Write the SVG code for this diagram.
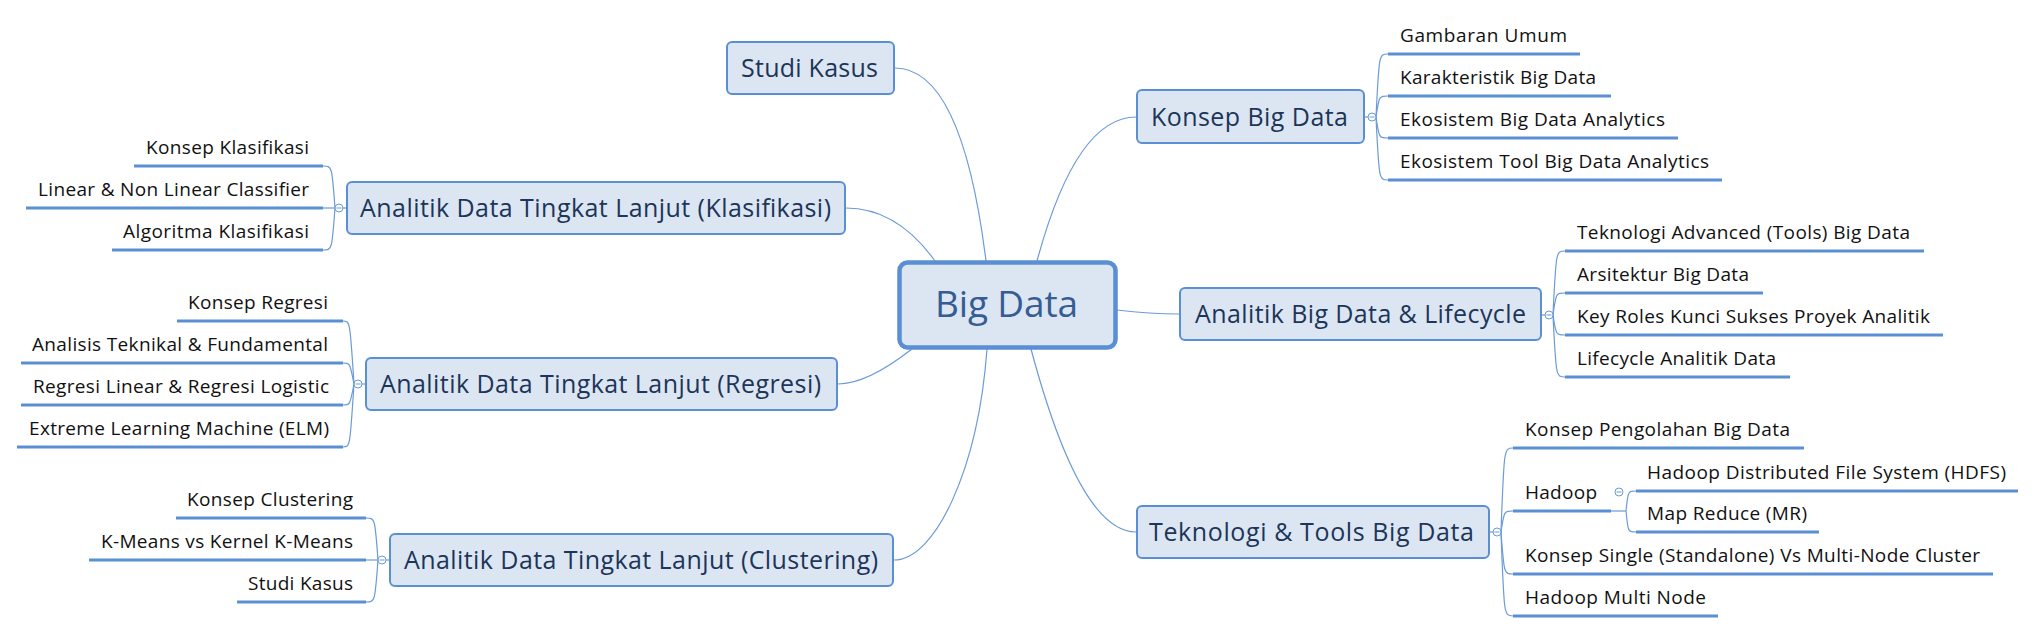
<svg xmlns="http://www.w3.org/2000/svg" width="2036" height="633" viewBox="0 0 2036 633">
<style>
.bg{fill:#ffffff}
.node rect{fill:#dce6f2;stroke:#5a8fd4;stroke-width:2}
.node text{font-family:"Open Sans","Noto Sans","Liberation Sans",sans-serif;font-size:25px;fill:#1c3559}
.central rect{fill:#dce6f2;stroke:#5a8fd4;stroke-width:4.5}
.central text{font-family:"Open Sans","Noto Sans","Liberation Sans",sans-serif;font-size:37px;fill:#355d92}
.child text{font-family:"Open Sans","Noto Sans","Liberation Sans",sans-serif;font-size:19px;fill:#111111}
.child line{stroke:#5a8fd4;stroke-width:3}
.conn path,.conn line{fill:none;stroke:#6a9bd8;stroke-width:1.2}
.knob circle{fill:#ffffff;stroke:#6a9bd8;stroke-width:1}
.knob line{stroke:#6a9bd8;stroke-width:1}
</style>
<rect class="bg" x="0" y="0" width="2036" height="633"/>

<g id="connectors" class="conn">
  <path d="M986 261 Q962 68 895 68"/>
  <path d="M935 261 Q897 208 846 208"/>
  <path d="M912 349 Q867 384 838 384"/>
  <path d="M987 349 C978 470 935 560 894 560"/>
  <path d="M1037 261 Q1076 117 1136 117"/>
  <path d="M1117 310 Q1150 314 1179 314"/>
  <path d="M1031 349 Q1080 532 1136 532"/>
  <line x1="343" y1="208" x2="346" y2="208"/>
  <path d="M335 208 C332 166 332 166 323 166"/>
  <line x1="335" y1="208" x2="323" y2="208"/>
  <path d="M335 208 C332 250 332 250 323 250"/>
  <line x1="362" y1="384" x2="366" y2="384"/>
  <path d="M354 384 C350 321 350 321 343 321"/>
  <path d="M354 384 C350 363 350 363 343 363"/>
  <path d="M354 384 C350 405 350 405 343 405"/>
  <path d="M354 384 C350 447 350 447 343 447"/>
  <line x1="386" y1="560" x2="390" y2="560"/>
  <path d="M378 560 C375 518 375 518 366 518"/>
  <line x1="378" y1="560" x2="366" y2="560"/>
  <path d="M378 560 C375 602 375 602 366 602"/>
  <line x1="1365" y1="117" x2="1368" y2="117"/>
  <path d="M1376 117 C1379 54 1379 54 1388 54"/>
  <path d="M1376 117 C1379 96 1379 96 1388 96"/>
  <path d="M1376 117 C1379 138 1379 138 1388 138"/>
  <path d="M1376 117 C1379 180 1379 180 1388 180"/>
  <line x1="1542" y1="315" x2="1545" y2="315"/>
  <path d="M1553 315 C1556 251 1556 251 1565 251"/>
  <path d="M1553 315 C1556 293 1556 293 1565 293"/>
  <path d="M1553 315 C1556 335 1556 335 1565 335"/>
  <path d="M1553 315 C1556 377 1556 377 1565 377"/>
  <line x1="1490" y1="532" x2="1493" y2="532"/>
  <path d="M1501 532 C1504 448 1504 448 1513 448"/>
  <path d="M1501 532 C1504 511 1504 511 1513 511"/>
  <path d="M1501 532 C1504 574 1504 574 1513 574"/>
  <path d="M1501 532 C1504 616 1504 616 1513 616"/>
  <line x1="1611" y1="511" x2="1626" y2="511"/>
  <path d="M1626 511 C1628 491 1628 491 1636 491"/>
  <path d="M1626 511 C1628 532 1628 532 1636 532"/>
</g>

<g id="knobs" class="knob">
  <circle cx="339" cy="208" r="4"/><line x1="336.5" y1="208" x2="341.5" y2="208"/>
  <circle cx="358" cy="384" r="4"/><line x1="355.5" y1="384" x2="360.5" y2="384"/>
  <circle cx="382" cy="560" r="4"/><line x1="379.5" y1="560" x2="384.5" y2="560"/>
  <circle cx="1372" cy="117" r="4"/><line x1="1369.5" y1="117" x2="1374.5" y2="117"/>
  <circle cx="1549" cy="315" r="4"/><line x1="1546.5" y1="315" x2="1551.5" y2="315"/>
  <circle cx="1497" cy="532" r="4"/><line x1="1494.5" y1="532" x2="1499.5" y2="532"/>
  <circle cx="1619" cy="492" r="4"/><line x1="1616.5" y1="492" x2="1621.5" y2="492"/>
</g>

<g id="central" class="central">
  <rect x="899.5" y="262.5" width="216" height="85" rx="8"/>
  <text x="935" y="317" textLength="143">Big Data</text>
</g>

<g id="studi-kasus" class="node">
  <rect x="727" y="42" width="167" height="52" rx="5"/>
  <text x="741" y="77" textLength="137">Studi Kasus</text>
</g>

<g id="klasifikasi" class="node">
  <rect x="347" y="182" width="498" height="52" rx="5"/>
  <text x="360" y="217" textLength="471">Analitik Data Tingkat Lanjut (Klasifikasi)</text>
</g>
<g id="klasifikasi-children" class="child">
  <text x="146" y="154" textLength="163">Konsep Klasifikasi</text>
  <line x1="134" y1="166" x2="323" y2="166"/>
  <text x="38" y="196" textLength="271">Linear &amp; Non Linear Classifier</text>
  <line x1="26" y1="208" x2="323" y2="208"/>
  <text x="123" y="238" textLength="186">Algoritma Klasifikasi</text>
  <line x1="112" y1="250" x2="323" y2="250"/>
</g>

<g id="regresi" class="node">
  <rect x="366" y="358" width="471" height="52" rx="5"/>
  <text x="380" y="393" textLength="441">Analitik Data Tingkat Lanjut (Regresi)</text>
</g>
<g id="regresi-children" class="child">
  <text x="188" y="309" textLength="140">Konsep Regresi</text>
  <line x1="177" y1="321" x2="343" y2="321"/>
  <text x="32" y="351" textLength="296">Analisis Teknikal &amp; Fundamental</text>
  <line x1="21" y1="363" x2="343" y2="363"/>
  <text x="33" y="393" textLength="296">Regresi Linear &amp; Regresi Logistic</text>
  <line x1="21" y1="405" x2="343" y2="405"/>
  <text x="29" y="435" textLength="300">Extreme Learning Machine (ELM)</text>
  <line x1="17" y1="447" x2="343" y2="447"/>
</g>

<g id="clustering" class="node">
  <rect x="390" y="534" width="503" height="52" rx="5"/>
  <text x="404" y="569" textLength="474">Analitik Data Tingkat Lanjut (Clustering)</text>
</g>
<g id="clustering-children" class="child">
  <text x="187" y="506" textLength="166">Konsep Clustering</text>
  <line x1="176" y1="518" x2="366" y2="518"/>
  <text x="101" y="548" textLength="252">K-Means vs Kernel K-Means</text>
  <line x1="89" y1="560" x2="366" y2="560"/>
  <text x="248" y="590" textLength="105">Studi Kasus</text>
  <line x1="237" y1="602" x2="366" y2="602"/>
</g>

<g id="konsep-big-data" class="node">
  <rect x="1137" y="90" width="227" height="53" rx="5"/>
  <text x="1151" y="126" textLength="197">Konsep Big Data</text>
</g>
<g id="konsep-children" class="child">
  <text x="1400" y="42" textLength="167">Gambaran Umum</text>
  <line x1="1388" y1="54" x2="1580" y2="54"/>
  <text x="1400" y="84" textLength="196">Karakteristik Big Data</text>
  <line x1="1388" y1="96" x2="1611" y2="96"/>
  <text x="1400" y="126" textLength="265">Ekosistem Big Data Analytics</text>
  <line x1="1388" y1="138" x2="1678" y2="138"/>
  <text x="1400" y="168" textLength="309">Ekosistem Tool Big Data Analytics</text>
  <line x1="1388" y1="180" x2="1722" y2="180"/>
</g>

<g id="lifecycle" class="node">
  <rect x="1180" y="288" width="361" height="52" rx="5"/>
  <text x="1195" y="323" textLength="331">Analitik Big Data &amp; Lifecycle</text>
</g>
<g id="lifecycle-children" class="child">
  <text x="1577" y="239" textLength="333">Teknologi Advanced (Tools) Big Data</text>
  <line x1="1565" y1="251" x2="1924" y2="251"/>
  <text x="1577" y="281" textLength="172">Arsitektur Big Data</text>
  <line x1="1565" y1="293" x2="1763" y2="293"/>
  <text x="1577" y="323" textLength="353">Key Roles Kunci Sukses Proyek Analitik</text>
  <line x1="1565" y1="335" x2="1943" y2="335"/>
  <text x="1577" y="365" textLength="199">Lifecycle Analitik Data</text>
  <line x1="1565" y1="377" x2="1790" y2="377"/>
</g>

<g id="teknologi" class="node">
  <rect x="1137" y="506" width="352" height="52" rx="5"/>
  <text x="1149" y="541" textLength="325">Teknologi &amp; Tools Big Data</text>
</g>
<g id="teknologi-children" class="child">
  <text x="1525" y="436" textLength="265">Konsep Pengolahan Big Data</text>
  <line x1="1513" y1="448" x2="1804" y2="448"/>
  <text x="1525" y="499" textLength="72">Hadoop</text>
  <line x1="1513" y1="511" x2="1611" y2="511"/>
  <text x="1525" y="562" textLength="455">Konsep Single (Standalone) Vs Multi-Node Cluster</text>
  <line x1="1513" y1="574" x2="1993" y2="574"/>
  <text x="1525" y="604" textLength="181">Hadoop Multi Node</text>
  <line x1="1513" y1="616" x2="1718" y2="616"/>
</g>
<g id="hadoop-children" class="child">
  <text x="1647" y="479" textLength="359">Hadoop Distributed File System (HDFS)</text>
  <line x1="1636" y1="491" x2="2018" y2="491"/>
  <text x="1647" y="520" textLength="160">Map Reduce (MR)</text>
  <line x1="1636" y1="532" x2="1819" y2="532"/>
</g>
</svg>
